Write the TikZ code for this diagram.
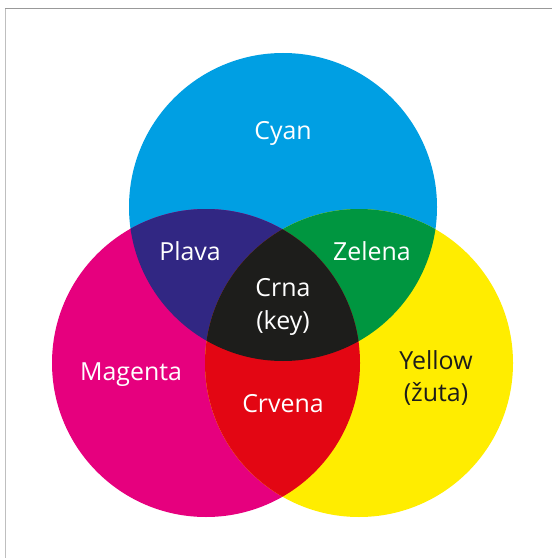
\documentclass[tikz,border=0pt]{standalone}
\usepackage{fontspec}
\setmainfont{Open Sans}
\definecolor{cmcyan}{HTML}{009FE3}
\definecolor{cmmag}{HTML}{E6007E}
\definecolor{cmyel}{HTML}{FFED00}
\definecolor{cmblue}{HTML}{312783}
\definecolor{cmgreen}{HTML}{009640}
\definecolor{cmred}{HTML}{E30613}
\definecolor{cmblack}{HTML}{1D1D1B}
\tikzset{
  lbl/.style={text=white, font=\fontsize{25}{33}\selectfont, align=center, inner sep=0pt},
  lbldark/.style={lbl, text=cmblack}
}
\begin{document}
\begin{tikzpicture}[x=1bp,y=-1bp]
\useasboundingbox (0,0) rectangle (552,558);
\fill[white] (0,0) rectangle (552,558);
\draw[line width=1bp, color=black!25] (5.5,558) -- (5.5,8);
\draw[line width=1bp, color=black!40] (5,8.5) -- (552,8.5);
\def\cyanc{(283,207) circle[radius=154]}
\def\magc{(206,363) circle[radius=154]}
\def\yelc{(359,363) circle[radius=154]}
\fill[cmcyan] \cyanc;
\fill[cmmag] \magc;
\fill[cmyel] \yelc;
\begin{scope}
  \clip \cyanc;
  \fill[cmblue] \magc;
  \fill[cmgreen] \yelc;
\end{scope}
\begin{scope}
  \clip \magc;
  \fill[cmred] \yelc;
\end{scope}
\begin{scope}
  \clip \cyanc;
  \clip \magc;
  \fill[cmblack] \yelc;
\end{scope}
\node[lbl] (cyan) at (283,133) {Cyan};
\node[lbl] (plava) at (190,251) {Plava};
\node[lbl] (zelena) at (372,251) {Zelena};
\node[lbl] (crna) at (283,307) {Crna\\(key)};
\node[lbl] (magenta) at (131,375) {Magenta};
\node[lbl] (crvena) at (283,404) {Crvena};
\node[lbldark] (yellow) at (436,378) {Yellow\\(žuta)};
\end{tikzpicture}
\end{document}
